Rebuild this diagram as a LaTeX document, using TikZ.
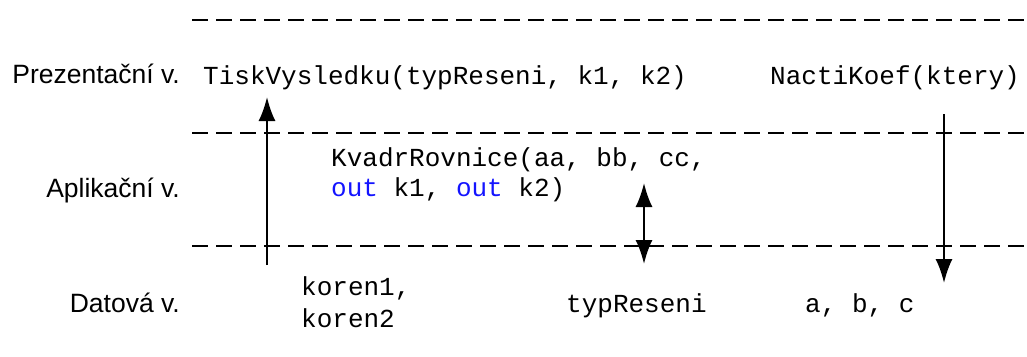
\documentclass[tikz,border=0pt]{standalone}
\usepackage{fontspec}
\setmainfont{Liberation Sans}
\setmonofont{Liberation Mono}
\usetikzlibrary{arrows.meta}
\definecolor{kwblue}{RGB}{20,20,255}
\begin{document}
\begin{tikzpicture}[x=1pt,y=-1pt,
  layer/.style={font=\fontsize{26.5}{30}\selectfont, anchor=base east, inner sep=0pt},
  code/.style={font=\ttfamily\fontsize{26}{30}\selectfont, anchor=base west, inner sep=0pt},
  sep/.style={line width=2pt, dash pattern=on 16pt off 8pt},
  flow/.style={line width=2pt, -{Latex[length=24pt,width=17pt]}},
  both/.style={line width=2pt, {Latex[length=24pt,width=17pt]}-{Latex[length=24pt,width=17pt]}}]
\useasboundingbox (0,0) rectangle (1027,356);

% layer separators
\draw[sep] (192,20) -- (1027,20);
\draw[sep] (192,133) -- (1027,133);
\draw[sep] (192,246) -- (1027,246);

% layer names
\node[layer] (pres) at (180,83) {Prezentační v.};
\node[layer] (apl)  at (180,197) {Aplikační v.};
\node[layer] (dat)  at (180,312) {Datová v.};

% presentation layer
\node[code] (tisk)  at (203,84) {TiskVysledku(typReseni, k1, k2)};
\node[code] (nacti) at (770,84) {NactiKoef(ktery)};

% application layer
\node[code] (kvadrA) at (331,166) {KvadrRovnice(aa, bb, cc,};
\node[code] (kvadrB) at (331,196) {\textcolor{kwblue}{out} k1, \textcolor{kwblue}{out} k2)};

% data layer
\node[code] (korenA) at (301,295) {koren1,};
\node[code] (korenB) at (301,327) {koren2};
\node[code] (typ)    at (566,312) {typReseni};
\node[code] (abc)    at (805,312) {a, b, c};

% data flow between layers
\coordinate (upS) at (267,265);
\coordinate (upE) at (267,97);
\coordinate (bdA) at (644,183);
\coordinate (bdB) at (644,264);
\coordinate (dnS) at (944,114);
\coordinate (dnE) at (944,283);
\draw[flow] (upS) -- (upE);
\draw[both] (bdA) -- (bdB);
\draw[flow] (dnS) -- (dnE);
\end{tikzpicture}
\end{document}
